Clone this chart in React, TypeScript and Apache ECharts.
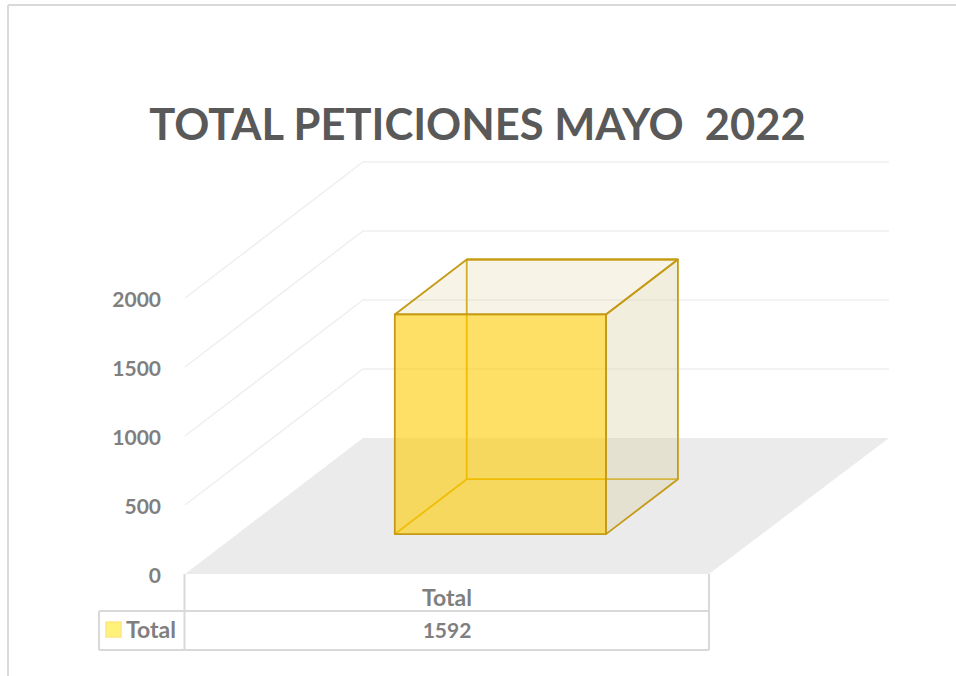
import React, { useEffect, useRef } from "react";
import * as echarts from "echarts";

const titleText = "TOTAL PETICIONES MAYO  2022";
const categories = ["Total"];
const seriesName = "Total";
const values = [1592];
const yTicks = [0, 500, 1000, 1500, 2000];
const gridTicks = [500, 1000, 1500, 2000];

const DEPTH_X = 178;
const DEPTH_Y = -136;
const BACK_EXTRA = 2;
const FONT = "Lato, Carlito, 'Open Sans', sans-serif";
const LABEL = "#7f7f7f";
const TABLE_LINE = "#d9d9d9";
const EDGE = "#c49a16";

const hline = (x1: number, y1: number, x2: number, y2: number, color = TABLE_LINE, lineWidth = 2) => ({
  type: "line",
  silent: true,
  shape: { x1, y1, x2, y2 },
  style: { stroke: color, lineWidth },
});

const tableText = (text: string, x: number, y: number, align = "center", size = 21) => ({
  type: "text",
  x,
  y,
  silent: true,
  style: {
    text,
    fill: LABEL,
    font: `bold ${size}px ${FONT}`,
    textAlign: align,
    textVerticalAlign: "middle",
  },
});

export default function App() {
  const ref = useRef<HTMLDivElement>(null);

  useEffect(() => {
    const chart = echarts.init(ref.current!, undefined, { renderer: "svg" });

    const renderFloor = (params: any, api: any) => {
      const cs = params.coordSys;
      const y0 = api.coord([0, 0])[1];
      const left = cs.x;
      const right = cs.x + cs.width;
      return {
        type: "polygon",
        silent: true,
        shape: {
          points: [
            [left, y0],
            [left + DEPTH_X, y0 + DEPTH_Y],
            [right + DEPTH_X + BACK_EXTRA, y0 + DEPTH_Y],
            [right, y0],
          ],
        },
        style: { fill: "#ebebeb" },
      };
    };

    const renderGrid = (params: any, api: any) => {
      const cs = params.coordSys;
      const y = api.coord([0, api.value(1)])[1];
      const left = cs.x;
      const right = cs.x + cs.width;
      return {
        type: "polyline",
        silent: true,
        shape: {
          points: [
            [left, y],
            [left + DEPTH_X, y + DEPTH_Y],
            [right + DEPTH_X + BACK_EXTRA, y + DEPTH_Y],
          ],
        },
        style: { stroke: "#efefef", lineWidth: 1.5, fill: "none" },
      };
    };

    const renderBar = (params: any, api: any) => {
      const band = api.size([1, 0])[0];
      const [cx, yBase] = api.coord([api.value(0), 0]);
      const yTop = api.coord([api.value(0), api.value(1)])[1];
      const w = band * 0.403;
      const dx = DEPTH_X * 0.404;
      const dy = DEPTH_Y * 0.404;
      const ox = DEPTH_X * 0.3;
      const oy = DEPTH_Y * 0.293;
      const x0 = cx - w / 2 + ox;
      const x1 = cx + w / 2 + ox;
      const yb = yBase + oy;
      const yt = yTop + oy;
      const edge = { stroke: EDGE, lineWidth: 1.8, lineJoin: "round" };
      const seg = (a: number[], b: number[], stroke = "#d6a810") => ({
        type: "line",
        silent: true,
        shape: { x1: a[0], y1: a[1], x2: b[0], y2: b[1] },
        style: { stroke, lineWidth: 1.8 },
      });
      const fbl = [x0, yb];
      const fbr = [x1, yb];
      const ftl = [x0, yt];
      const ftr = [x1, yt];
      const bbl = [x0 + dx, yb + dy];
      const bbr = [x1 + dx, yb + dy];
      const btl = [x0 + dx, yt + dy];
      const btr = [x1 + dx, yt + dy];
      return {
        type: "group",
        children: [
          seg(bbl, btl),
          seg(bbl, bbr),
          seg(btl, btr),
          seg(fbl, bbl),
          {
            type: "polygon",
            silent: true,
            shape: { points: [ftl, ftr, btr, btl] },
            style: { fill: "rgba(215,195,135,0.2)", ...edge },
          },
          {
            type: "polygon",
            silent: true,
            shape: { points: [ftr, btr, bbr, fbr] },
            style: { fill: "rgba(215,206,158,0.35)", ...edge },
          },
          {
            type: "polygon",
            silent: true,
            shape: { points: [ftl, ftr, fbr, fbl] },
            style: { fill: "rgba(255,203,0,0.6)", ...edge },
          },
        ],
      };
    };

    chart.setOption({
      animation: false,
      backgroundColor: "#ffffff",
      title: {
        text: titleText,
        left: 472.5,
        top: 96,
        textAlign: "center",
        textStyle: { color: "#595959", fontFamily: FONT, fontWeight: "bold", fontSize: 43.5 },
      },
      grid: { left: 185, top: 298, width: 524, height: 276, containLabel: false },
      xAxis: {
        type: "category",
        data: categories,
        axisLine: { show: false },
        axisTick: { show: false },
        splitLine: { show: false },
        axisLabel: { color: LABEL, fontFamily: FONT, fontWeight: "bold", fontSize: 23, margin: 11 },
      },
      yAxis: {
        type: "value",
        min: yTicks[0],
        max: yTicks[yTicks.length - 1],
        interval: yTicks[1] - yTicks[0],
        axisLine: { show: false },
        axisTick: { show: false },
        splitLine: { show: false },
        axisLabel: {
          color: LABEL,
          fontFamily: FONT,
          fontWeight: "bold",
          fontSize: 21,
          margin: 24,
          formatter: (v: number) => String(v),
        },
      },
      series: [
        {
          type: "custom",
          silent: true,
          renderItem: renderFloor,
          data: [[0, 0]],
          encode: { x: 0, y: 1 },
          z: 1,
        },
        {
          type: "custom",
          silent: true,
          renderItem: renderGrid,
          data: gridTicks.map((t) => [0, t]),
          encode: { x: 0, y: 1 },
          z: 2,
        },
        {
          type: "custom",
          name: seriesName,
          silent: true,
          renderItem: renderBar,
          data: values.map((v, i) => [i, v]),
          encode: { x: 0, y: 1 },
          z: 3,
        },
      ],
      graphic: [
        hline(8, 5, 956, 5),
        hline(8, 5, 8, 676),
        hline(184.5, 574, 184.5, 650),
        hline(709, 574, 709, 650),
        hline(99, 611, 709, 611),
        hline(99, 650, 709, 650),
        hline(99, 611, 99, 650),
        {
          type: "rect",
          silent: true,
          shape: { x: 106, y: 622, width: 15, height: 15 },
          style: { fill: "#fff27a", stroke: "#ffe680", lineWidth: 1.5 },
        },
        tableText(seriesName, 126, 629, "left", 23),
        tableText(String(values[0]), 447, 629),
      ],
    });

    return () => chart.dispose();
  }, []);

  return <div ref={ref} style={{ position: "fixed", left: 0, top: 0, width: 956, height: 676 }} />;
}
